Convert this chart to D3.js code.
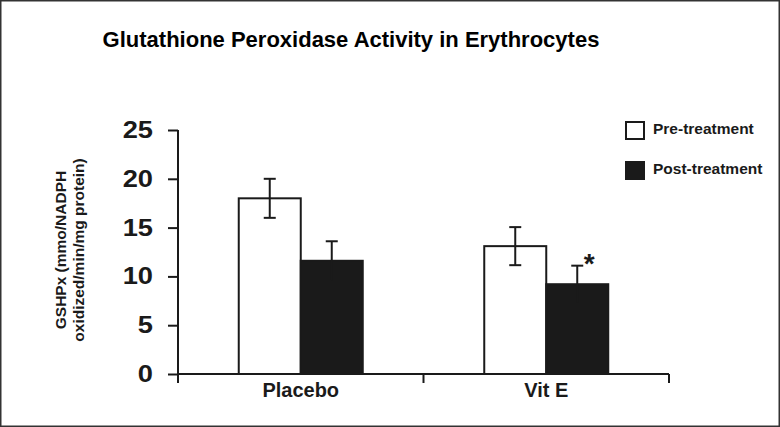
<!DOCTYPE html>
<html>
<head>
<meta charset="utf-8">
<script src="https://cdnjs.cloudflare.com/ajax/libs/d3/7.8.5/d3.min.js"></script>
<style>
  body { margin: 0; background: #fff; }
  svg { display: block; font-family: 'Liberation Sans', Arial, sans-serif; }
</style>
</head>
<body>
<svg width="780" height="427"></svg>
<script>
let categories = ['Placebo', 'Vit E'];
let seriesNames = ['Pre-treatment', 'Post-treatment'];
let preValues = [18, 13.1];
let preErrors = [2, 1.95];
let postValues = [11.6, 9.2];
let postErrors = [2, 1.9];
let yTicks = [0, 5, 10, 15, 20, 25];
let signif = [false, true];

let svg = d3.select('svg'),
    width = +svg.attr('width'),
    height = +svg.attr('height');

let ink = '#1a1a1a';

// outer frame
svg.append('rect')
    .attr('x', 0.75).attr('y', 0.75)
    .attr('width', width - 1.5).attr('height', height - 1.5)
    .attr('fill', '#fff').attr('stroke', '#333').attr('stroke-width', 1.5);

let margin = {left: 178, right: 111, top: 130, bottom: 53};

let x0 = d3.scaleBand()
    .domain(categories)
    .range([margin.left, width - margin.right]);

let x1 = d3.scaleBand()
    .domain(seriesNames)
    .range([x0.bandwidth() / 2 - 62, x0.bandwidth() / 2 + 62]);

let y = d3.scaleLinear()
    .domain([0, 25])
    .range([height - margin.bottom, margin.top]);

let colors = {'Pre-treatment': '#fff', 'Post-treatment': ink};

let data = [];
categories.forEach((c, i) => {
    data.push({cat: c, series: 'Pre-treatment', value: preValues[i], err: preErrors[i], star: false});
    data.push({cat: c, series: 'Post-treatment', value: postValues[i], err: postErrors[i], star: signif[i]});
});

// title
svg.append('text')
    .attr('x', 351).attr('y', 47)
    .attr('text-anchor', 'middle')
    .attr('font-size', 22).attr('font-weight', 'bold')
    .attr('fill', '#000')
    .text('Glutathione Peroxidase Activity in Erythrocytes');

// bars
svg.append('g')
    .selectAll('rect')
    .data(data)
    .enter().append('rect')
    .attr('x', d => x0(d.cat) + x1(d.series))
    .attr('y', d => y(d.value))
    .attr('width', x1.bandwidth())
    .attr('height', d => y(0) - y(d.value))
    .attr('fill', d => colors[d.series])
    .attr('stroke', ink)
    .attr('stroke-width', 2);

// error bars
let eb = svg.append('g')
    .selectAll('g')
    .data(data)
    .enter().append('g')
    .attr('stroke', ink)
    .attr('stroke-width', 2);

let cx = d => x0(d.cat) + x1(d.series) + x1.bandwidth() / 2;

eb.append('line')
    .attr('x1', cx).attr('x2', cx)
    .attr('y1', d => y(d.value - d.err))
    .attr('y2', d => y(d.value + d.err));
eb.append('line')
    .attr('x1', d => cx(d) - 6).attr('x2', d => cx(d) + 6)
    .attr('y1', d => y(d.value + d.err))
    .attr('y2', d => y(d.value + d.err));
eb.filter(d => d.series === 'Pre-treatment').append('line')
    .attr('x1', d => cx(d) - 6).attr('x2', d => cx(d) + 6)
    .attr('y1', d => y(d.value - d.err))
    .attr('y2', d => y(d.value - d.err));

// significance star
svg.append('g')
    .selectAll('text')
    .data(data.filter(d => d.star))
    .enter().append('text')
    .attr('x', d => cx(d) + 12)
    .attr('y', d => y(d.value + d.err) + 7)
    .attr('text-anchor', 'middle')
    .attr('font-size', 28).attr('font-weight', 'bold')
    .attr('fill', ink)
    .text('*');

// y axis
let yAxis = svg.append('g')
    .attr('transform', `translate(${margin.left},0)`)
    .call(d3.axisLeft(y).tickValues(yTicks).tickSize(10));
yAxis.select('.domain').attr('stroke', ink).attr('stroke-width', 2)
    .attr('d', `M0,${y(25)}H0V${y(0)}`);
yAxis.selectAll('.tick line').attr('stroke', ink).attr('stroke-width', 2);
yAxis.selectAll('.tick text')
    .attr('x', -25 / 1.16)
    .attr('transform', 'scale(1.16,1)')
    .attr('font-size', 23.5).attr('font-weight', 'bold')
    .attr('font-family', "'Liberation Sans', Arial, sans-serif")
    .attr('fill', ink);

// x axis
let xAxis = svg.append('g')
    .attr('transform', `translate(0,${y(0)})`);
xAxis.append('line')
    .attr('x1', margin.left - 1).attr('x2', width - margin.right)
    .attr('y1', 0).attr('y2', 0)
    .attr('stroke', ink).attr('stroke-width', 2);
let xEdges = [x0(categories[0]), x0(categories[1]), x0(categories[1]) + x0.bandwidth()];
xAxis.selectAll('.xt')
    .data(xEdges)
    .enter().append('line')
    .attr('x1', d => d).attr('x2', d => d)
    .attr('y1', 0).attr('y2', 9)
    .attr('stroke', ink).attr('stroke-width', 2);
xAxis.selectAll('.xl')
    .data(categories)
    .enter().append('text')
    .attr('x', d => x0(d) + x0.bandwidth() / 2)
    .attr('y', 23)
    .attr('text-anchor', 'middle')
    .attr('font-size', 20).attr('font-weight', 'bold')
    .attr('fill', ink)
    .text(d => d);

// y axis title
let yt = svg.append('text')
    .attr('transform', 'translate(66,250) rotate(-90)')
    .attr('text-anchor', 'middle')
    .attr('font-size', 15.5).attr('font-weight', 'bold')
    .attr('fill', ink);
yt.append('tspan').attr('x', 0).attr('y', 0).text('GSHPx (mmo/NADPH');
yt.append('tspan').attr('x', 0).attr('y', 18).text('oxidized/min/mg protein)');

// legend
let legend = svg.append('g')
    .selectAll('g')
    .data(seriesNames)
    .enter().append('g')
    .attr('transform', (d, i) => `translate(626,${122 + i * 40})`);
legend.append('rect')
    .attr('width', 18).attr('height', 17)
    .attr('fill', d => colors[d])
    .attr('stroke', ink).attr('stroke-width', 2);
legend.append('text')
    .attr('x', 27).attr('y', 12)
    .attr('font-size', 15.5).attr('font-weight', 'bold')
    .attr('fill', ink)
    .text(d => d);
</script>
</body>
</html>
